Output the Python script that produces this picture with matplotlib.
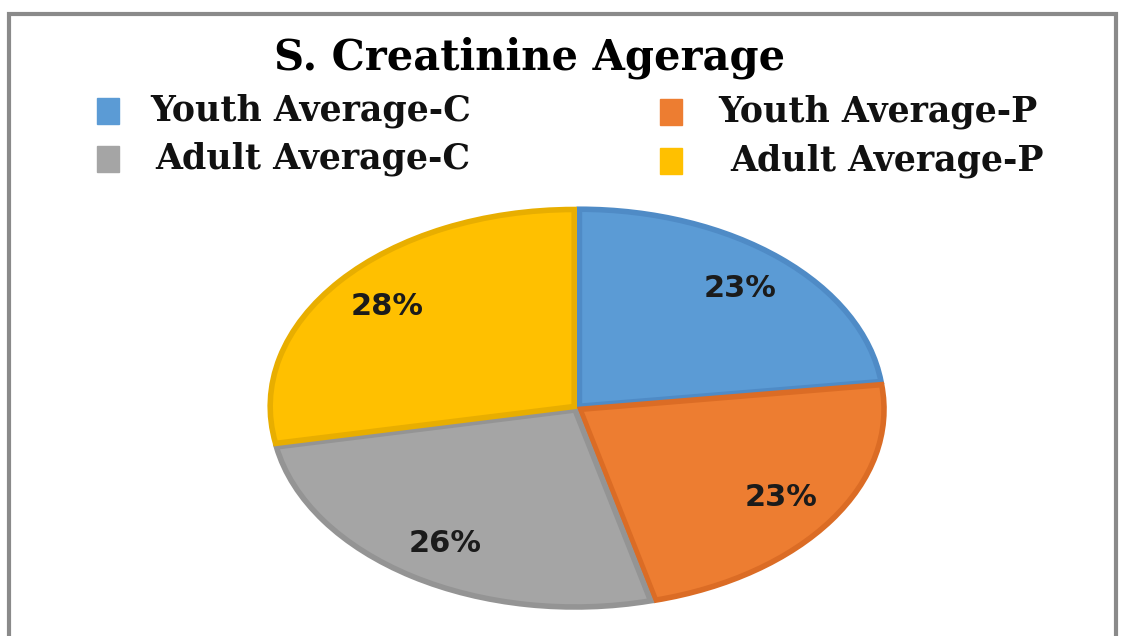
import matplotlib
matplotlib.use('Agg')
import matplotlib.pyplot as plt
from matplotlib.patches import Rectangle

# data
labels = ['Youth Average-C', 'Youth Average-P', 'Adult Average-C', 'Adult Average-P']
shares = [23, 23, 26, 28]
colors = ['#5B9BD5', '#ED7D31', '#A5A5A5', '#FFC000']
edges = ['#4F8BC6', '#DB6C25', '#949494', '#E8AE00']

W, H = 1122, 636
fig = plt.figure(figsize=(W / 100, H / 100), dpi=100)
fig.patch.set_facecolor('white')

# outer frame of the screenshot
fig.add_artist(Rectangle((9 / W, -0.01), (1107 / W), (636 - 14) / H + 0.01,
                         transform=fig.transFigure, fill=False,
                         edgecolor='#8a8a8a', linewidth=3))

# pie is an ellipse: centre (577,408) px, rx 304, ry 197
cx, cy, rx, ry = 577, 408, 304, 197
m = 1.1
ax = fig.add_axes([(cx - rx * m) / W, (H - cy - ry * m) / H, 2 * rx * m / W, 2 * ry * m / H])
wedges, texts, autotexts = ax.pie(shares, colors=colors, startangle=90, counterclock=False,
                                  explode=[0.012] * 4, autopct='%.0f%%', pctdistance=0.8,
                                  wedgeprops=dict(linewidth=4, joinstyle='miter'),
                                  textprops=dict(fontsize=22, fontweight='bold', color='#1b1b1b',
                                                 family='DejaVu Sans'))
for w, e in zip(wedges, edges):
    w.set_edgecolor(e)
ax.set_aspect('auto')
ax.set_xlim(-m, m)
ax.set_ylim(-m, m)
ax.axis('off')

fig.text(530 / W, 1 - 58 / H, 'S. Creatinine Agerage', ha='center', va='center',
         fontsize=30, fontweight='bold', family='DejaVu Serif')

# legend laid out by hand, two columns
leg_pos = [(97, 111, 150), (660, 112, 718), (97, 159, 155), (660, 161, 730)]
for (sx, ty, tx), lab, c in zip(leg_pos, labels, colors):
    fig.add_artist(Rectangle((sx / W, 1 - (ty + 13) / H), 22 / W, 26 / H,
                             transform=fig.transFigure, color=c))
    fig.text(tx / W, 1 - ty / H, lab, ha='left', va='center',
             fontsize=25, fontweight='bold', family='DejaVu Serif', color='#111111')

fig.savefig('out.png', dpi=100)
